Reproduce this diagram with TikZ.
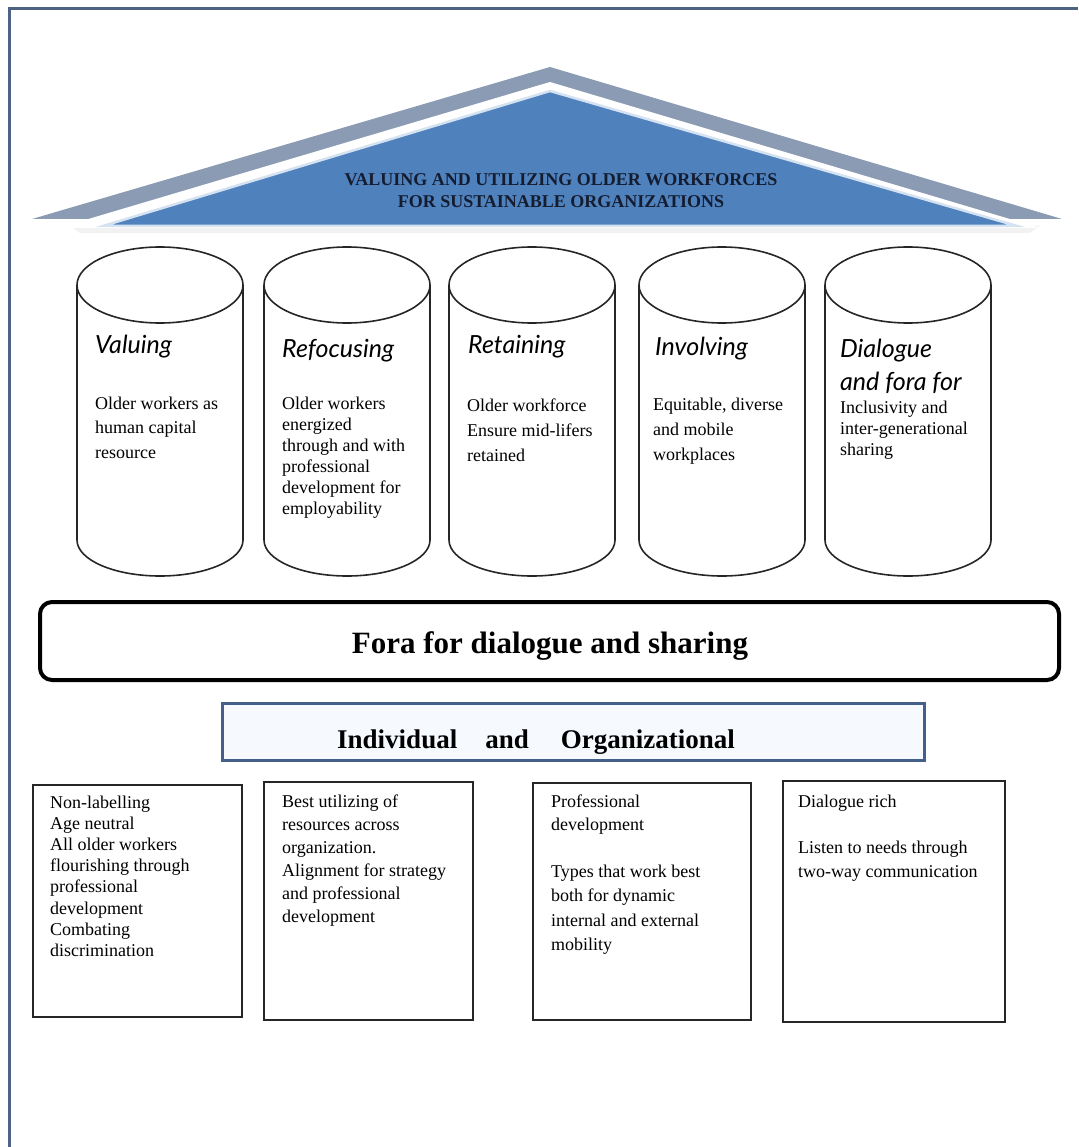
\documentclass[tikz,border=0pt]{standalone}
\usepackage{fontspec}
\setmainfont{Liberation Serif}
\newfontfamily\handfont{Lato}
\definecolor{framecol}{HTML}{4E6384}
\definecolor{roofgray}{HTML}{8A9BB3}
\definecolor{roofblue}{HTML}{4F81BD}
\definecolor{roofedge}{HTML}{D5E2F2}
\definecolor{rooftext}{HTML}{141C30}
\definecolor{indborder}{HTML}{44608A}
\definecolor{indfill}{HTML}{F6FAFE}
\newcommand{\lns}[1]{\begin{tabular}[t]{@{}l@{}}#1\end{tabular}}
\newcommand{\cylat}[1]{%
  \draw[cylline] (#1-83,285) -- (#1-83,540) arc[start angle=180,end angle=360,x radius=83pt,y radius=36pt] -- (#1+83,285);
  \draw[cylline] (#1,285) ellipse[x radius=83pt,y radius=38pt];}
\tikzset{
  cylline/.style={draw=black!85, line width=1.6pt},
  boxnode/.style={draw=black!85, line width=2pt, inner sep=0pt},
  bodytext/.style={anchor=base west, inner sep=0pt},
  titletext/.style={anchor=base west, inner sep=0pt, font=\handfont\itshape\fontsize{25}{33}\selectfont},
}
\begin{document}
\begin{tikzpicture}[x=1pt,y=-1pt]
\useasboundingbox (0,0) rectangle (1078,1147);
% outer frame (top and left visible)
\draw[draw=framecol, line width=3.5pt] (9.5,1147) -- (9.5,8.5) -- (1078,8.5);
% roof
\fill[gray!10] (70,226) -- (1040,226) -- (1030,233) -- (80,233) -- cycle;
\fill[roofgray] (32,219) -- (550,67) -- (1062,219) -- cycle;
\fill[white] (58,228) -- (550,82) -- (1040,228) -- cycle;
\filldraw[fill=roofblue, draw=roofedge, line width=2.5pt, line join=miter] (103,226) -- (550,91) -- (1017,226) -- cycle;
\node[font=\bfseries\fontsize{18}{22}\selectfont, text=rooftext, align=center, anchor=base, inner sep=0pt] (roof) at (561,208)
  {VALUING AND UTILIZING OLDER WORKFORCES\\FOR SUSTAINABLE ORGANIZATIONS};
% cylinders
\cylat{160}
\cylat{347}
\cylat{532}
\cylat{722}
\cylat{908}
\node[titletext] (t1) at (95,353) {Valuing};
\node[titletext] (t2) at (282,357) {Refocusing};
\node[titletext] (t3) at (468,353) {Retaining};
\node[titletext] (t4) at (655,355) {Involving};
\node[titletext] (t5) at (840,357) {\lns{Dialogue\\and fora for}};
\node[bodytext, font=\fontsize{18}{24.5}\selectfont] (c1) at (95,409) {\lns{Older workers as\\human capital\\resource}};
\node[bodytext, font=\fontsize{18}{21}\selectfont] (c2) at (282,409) {\lns{Older workers\\energized\\through and with\\professional\\development for\\employability}};
\node[bodytext, font=\fontsize{18}{25}\selectfont] (c3) at (467,411) {\lns{Older workforce\\Ensure mid-lifers\\retained}};
\node[bodytext, font=\fontsize{18}{25}\selectfont] (c4) at (653,410) {\lns{Equitable, diverse\\and mobile\\workplaces}};
\node[bodytext, font=\fontsize{18}{21}\selectfont] (c5) at (840,413) {\lns{Inclusivity and\\inter-generational\\sharing}};
% fora box
\node[draw=black, line width=4pt, rounded corners=12pt, minimum width=1019, minimum height=78, inner sep=0pt] (fora) at (549.5,641) {};
\node[font=\bfseries\fontsize{31}{36}\selectfont, anchor=base, inner sep=0pt] (foratext) at (550,653) {Fora for dialogue and sharing};
% individual and organizational
\node[draw=indborder, fill=indfill, line width=3pt, minimum width=702, minimum height=57, inner sep=0pt] (ind) at (573,731.5) {};
\node[font=\bfseries\fontsize{27}{30}\selectfont, anchor=base west, inner sep=0pt] (indtext) at (337,748) {Individual\hspace{28pt}and\hspace{32pt}Organizational};
% bottom boxes
\node[boxnode, minimum width=209, minimum height=232] (box1) at (137.5,901) {};
\node[boxnode, minimum width=209, minimum height=238] (box2) at (368.5,901) {};
\node[boxnode, minimum width=218, minimum height=237] (box3) at (642,901.5) {};
\node[boxnode, minimum width=222, minimum height=241] (box4) at (894,901.5) {};
\node[bodytext, font=\fontsize{18}{21.2}\selectfont] (x1) at (50,808) {\lns{Non-labelling\\Age neutral\\All older workers\\flourishing through\\professional\\development\\Combating\\discrimination}};
\node[bodytext, font=\fontsize{18}{23}\selectfont] (x2) at (282,807) {\lns{Best utilizing of\\resources across\\organization.\\Alignment for strategy\\and professional\\development}};
\node[bodytext, font=\fontsize{18}{23.5}\selectfont] (x3a) at (551,807) {\lns{Professional\\development}};
\node[bodytext, font=\fontsize{18}{24.5}\selectfont] (x3b) at (551,877) {\lns{Types that work best\\both for dynamic\\internal and external\\mobility}};
\node[bodytext, font=\fontsize{18}{24}\selectfont] (x4a) at (798,807) {Dialogue rich};
\node[bodytext, font=\fontsize{18}{24}\selectfont] (x4b) at (798,853) {\lns{Listen to needs through\\two-way communication}};
\end{tikzpicture}
\end{document}
